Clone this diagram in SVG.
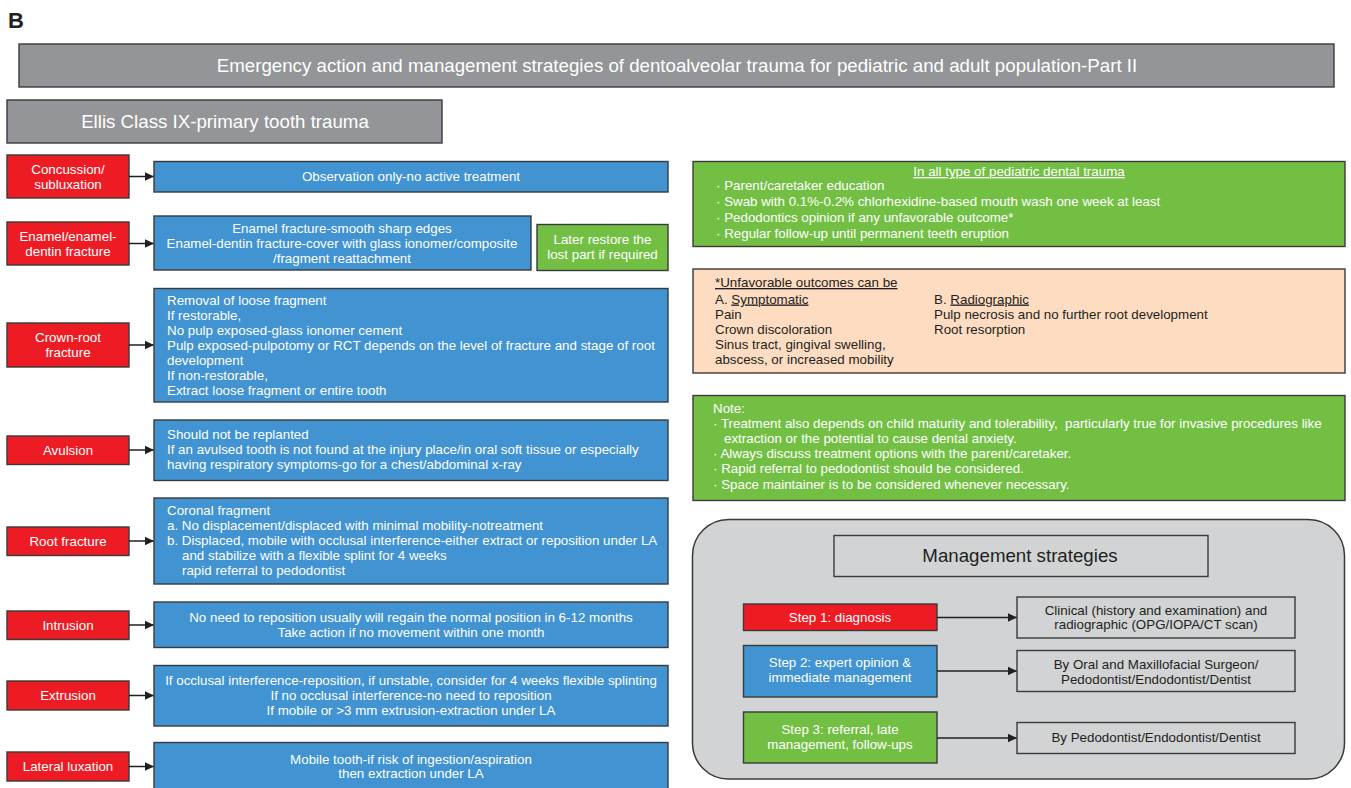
<svg xmlns="http://www.w3.org/2000/svg" width="1351" height="788" viewBox="0 0 1351 788">
<defs>
<marker id="ah" markerWidth="10" markerHeight="10" refX="9" refY="5" orient="auto" markerUnits="userSpaceOnUse">
<path d="M0,0.5 L9.5,5 L0,9.5 Z" fill="#231F20"/>
</marker>
<style>
text{font-family:"Liberation Sans",Arial,sans-serif;}
.bx{stroke:#3a3a3a;stroke-width:1.4;}
.red{fill:#ED1C24;}
.blue{fill:#4193D1;}
.green{fill:#72BF44;}
.peach{fill:#FDDCC2;}
.gray{fill:#939598;}
.lg{fill:#D1D3D4;}
.w{fill:#ffffff;font-size:13.35px;}
.k{fill:#231F20;font-size:13.35px;}
.c{text-anchor:middle;}
.big{font-size:18.7px;fill:#ffffff;text-anchor:middle;}
.con{stroke:#231F20;stroke-width:1.5;fill:none;marker-end:url(#ah);}
.u{text-decoration:underline;}
</style>
</defs>
<rect width="1351" height="788" fill="#ffffff"/>
<text x="8" y="28" style="font-size:22px;font-weight:bold;fill:#231F20">B</text>

<g id="title"><rect class="bx gray" x="19" y="44" width="1315" height="43"/><text class="big" x="677" y="71.5">Emergency action and management strategies of dentoalveolar trauma for pediatric and adult population-Part II</text></g>
<g id="ellis"><rect class="bx gray" x="7" y="100" width="435" height="43"/><text class="big" x="225" y="128">Ellis Class IX-primary tooth trauma</text></g>

<g id="concussion"><rect class="bx red" x="7" y="155" width="122" height="43"/><text class="w c" x="68" y="173.5">Concussion/</text><text class="w c" x="68" y="188.5">subluxation</text></g>
<g id="obs"><rect class="bx blue" x="154" y="161.5" width="514" height="30.5"/><text class="w c" x="411" y="181">Observation only-no active treatment</text></g>

<g id="enamel"><rect class="bx red" x="7" y="222" width="122" height="43"/><text class="w c" x="68" y="240.5">Enamel/enamel-</text><text class="w c" x="68" y="255.5">dentin fracture</text></g>
<g id="enamel-tx"><rect class="bx blue" x="154" y="216" width="377" height="54"/><text class="w c" x="342" y="232.5">Enamel fracture-smooth sharp edges</text><text class="w c" x="342" y="247.5">Enamel-dentin fracture-cover with glass ionomer/composite</text><text class="w c" x="342" y="262.5">/fragment reattachment</text></g>
<g id="later"><rect class="bx green" x="537" y="224.5" width="131" height="46"/><text class="w c" x="602.5" y="244">Later restore the</text><text class="w c" x="602.5" y="259">lost part if required</text></g>

<g id="crown"><rect class="bx red" x="7" y="323" width="122" height="44"/><text class="w c" x="68" y="342">Crown-root</text><text class="w c" x="68" y="357">fracture</text></g>
<g id="crown-tx"><rect class="bx blue" x="154" y="288.5" width="514" height="113.5"/>
<text class="w" x="167" y="304.5">Removal of loose fragment</text>
<text class="w" x="167" y="319.5">If restorable,</text>
<text class="w" x="167" y="334.5">No pulp exposed-glass ionomer cement</text>
<text class="w" x="167" y="349.5">Pulp exposed-pulpotomy or RCT depends on the level of fracture and stage of root</text>
<text class="w" x="167" y="364.5">development</text>
<text class="w" x="167" y="379.5">If non-restorable,</text>
<text class="w" x="167" y="394.5">Extract loose fragment or entire tooth</text></g>

<g id="avulsion"><rect class="bx red" x="7" y="436" width="122" height="28.5"/><text class="w c" x="68" y="455">Avulsion</text></g>
<g id="avulsion-tx"><rect class="bx blue" x="154" y="420" width="514" height="60.5"/>
<text class="w" x="167" y="438.5">Should not be replanted</text>
<text class="w" x="167" y="453.5">If an avulsed tooth is not found at the injury place/in oral soft tissue or especially</text>
<text class="w" x="167" y="468.5">having respiratory symptoms-go for a chest/abdominal x-ray</text></g>

<g id="root"><rect class="bx red" x="7" y="527" width="122" height="28.5"/><text class="w c" x="68" y="546">Root fracture</text></g>
<g id="root-tx"><rect class="bx blue" x="154" y="498" width="514" height="86"/>
<text class="w" x="167" y="514.5">Coronal fragment</text>
<text class="w" x="167" y="529.5">a. No displacement/displaced with minimal mobility-notreatment</text>
<text class="w" x="167" y="544.5">b. Displaced, mobile with occlusal interference-either extract or reposition under LA</text>
<text class="w" x="182" y="559.5">and stabilize with a flexible splint for 4 weeks</text>
<text class="w" x="182" y="574.5">rapid referral to pedodontist</text></g>

<g id="intrusion"><rect class="bx red" x="7" y="611" width="122" height="28.5"/><text class="w c" x="68" y="630">Intrusion</text></g>
<g id="intrusion-tx"><rect class="bx blue" x="154" y="602" width="514" height="45.5"/>
<text class="w c" x="411" y="621.5">No need to reposition usually will regain the normal position in 6-12 months</text>
<text class="w c" x="411" y="636.5">Take action if no movement within one month</text></g>

<g id="extrusion"><rect class="bx red" x="7" y="681" width="122" height="29"/><text class="w c" x="68" y="700">Extrusion</text></g>
<g id="extrusion-tx"><rect class="bx blue" x="154" y="665.5" width="514" height="60.5"/>
<text class="w c" x="411" y="685">If occlusal interference-reposition, if unstable, consider for 4 weeks flexible splinting</text>
<text class="w c" x="411" y="700">If no occlusal interference-no need to reposition</text>
<text class="w c" x="411" y="715">If mobile or &gt;3 mm extrusion-extraction under LA</text></g>

<g id="lateral"><rect class="bx red" x="7" y="752" width="122" height="29"/><text class="w c" x="68" y="771">Lateral luxation</text></g>
<g id="lateral-tx"><rect class="bx blue" x="154" y="742.5" width="514" height="60"/>
<text class="w c" x="411" y="763.5">Mobile tooth-if risk of ingestion/aspiration</text>
<text class="w c" x="411" y="777.5">then extraction under LA</text></g>

<g id="all-types"><rect class="bx green" x="693" y="161.5" width="652" height="85"/>
<text class="w c u" x="1019" y="176">In all type of pediatric dental trauma</text>
<text class="w" x="716" y="190">· Parent/caretaker education</text>
<text class="w" x="716" y="206">· Swab with 0.1%-0.2% chlorhexidine-based mouth wash one week at least</text>
<text class="w" x="716" y="222">· Pedodontics opinion if any unfavorable outcome*</text>
<text class="w" x="716" y="237.5">· Regular follow-up until permanent teeth eruption</text></g>

<g id="outcomes"><rect class="bx peach" x="693" y="269" width="652" height="104"/>
<text class="k u" x="715" y="287">*Unfavorable outcomes can be</text>
<text class="k" x="715" y="303.5">A. <tspan class="u">Symptomatic</tspan></text>
<text class="k" x="715" y="318.5">Pain</text>
<text class="k" x="715" y="333.5">Crown discoloration</text>
<text class="k" x="715" y="348.5">Sinus tract, gingival swelling,</text>
<text class="k" x="715" y="363.5">abscess, or increased mobility</text>
<text class="k" x="934" y="303.5">B. <tspan class="u">Radiographic</tspan></text>
<text class="k" x="934" y="318.5">Pulp necrosis and no further root development</text>
<text class="k" x="934" y="333.5">Root resorption</text></g>

<g id="note"><rect class="bx green" x="693" y="395.5" width="652" height="105"/>
<text class="w" x="713" y="412.5">Note:</text>
<text class="w" x="713" y="427.5" xml:space="preserve">· Treatment also depends on child maturity and tolerability,  particularly true for invasive procedures like</text>
<text class="w" x="724" y="442.5">extraction or the potential to cause dental anxiety.</text>
<text class="w" x="713" y="457.5">· Always discuss treatment options with the parent/caretaker.</text>
<text class="w" x="713" y="473">· Rapid referral to pedodontist should be considered.</text>
<text class="w" x="713" y="489">· Space maintainer is to be considered whenever necessary.</text></g>

<g id="management">
<rect x="692.5" y="519.5" width="652" height="259.5" rx="36" ry="36" class="lg" stroke="#3a3a3a" stroke-width="1.5"/>
<rect class="bx lg" x="834" y="535.5" width="374" height="41"/>
<text x="1020" y="562" style="font-size:18.7px;fill:#231F20;text-anchor:middle">Management strategies</text>
</g>
<g id="step1"><rect class="bx red" x="743.5" y="604" width="193.5" height="26.5"/><text class="w c" x="840" y="621.5">Step 1: diagnosis</text></g>
<g id="step2"><rect class="bx blue" x="743.5" y="645.5" width="193.5" height="51.5"/><text class="w c" x="840" y="666.5">Step 2: expert opinion &amp;</text><text class="w c" x="840" y="682">immediate management</text></g>
<g id="step3"><rect class="bx green" x="743.5" y="712" width="193.5" height="51"/><text class="w c" x="840" y="733.5">Step 3: referral, late</text><text class="w c" x="840" y="748.5">management, follow-ups</text></g>
<g id="res1"><rect class="bx lg" x="1017" y="597" width="278" height="41"/><text class="k c" x="1156" y="614.5">Clinical (history and examination) and</text><text class="k c" x="1156" y="629">radiographic (OPG/IOPA/CT scan)</text></g>
<g id="res2"><rect class="bx lg" x="1017" y="650.5" width="278" height="41"/><text class="k c" x="1156" y="668.5">By Oral and Maxillofacial Surgeon/</text><text class="k c" x="1156" y="683.5">Pedodontist/Endodontist/Dentist</text></g>
<g id="res3"><rect class="bx lg" x="1017" y="722.5" width="278" height="31"/><text class="k c" x="1156" y="742">By Pedodontist/Endodontist/Dentist</text></g>

<g id="connectors">
<line class="con" x1="129" y1="176.5" x2="153.5" y2="176.5"/>
<line class="con" x1="129" y1="243.5" x2="153.5" y2="243.5"/>
<line class="con" x1="129" y1="345" x2="153.5" y2="345"/>
<line class="con" x1="129" y1="450" x2="153.5" y2="450"/>
<line class="con" x1="129" y1="541" x2="153.5" y2="541"/>
<line class="con" x1="129" y1="625" x2="153.5" y2="625"/>
<line class="con" x1="129" y1="695.5" x2="153.5" y2="695.5"/>
<line class="con" x1="129" y1="766.5" x2="153.5" y2="766.5"/>
<line class="con" x1="937" y1="617.5" x2="1016.5" y2="617.5"/>
<line class="con" x1="937" y1="671" x2="1016.5" y2="671"/>
<line class="con" x1="937" y1="738" x2="1016.5" y2="738"/>
</g>
</svg>
